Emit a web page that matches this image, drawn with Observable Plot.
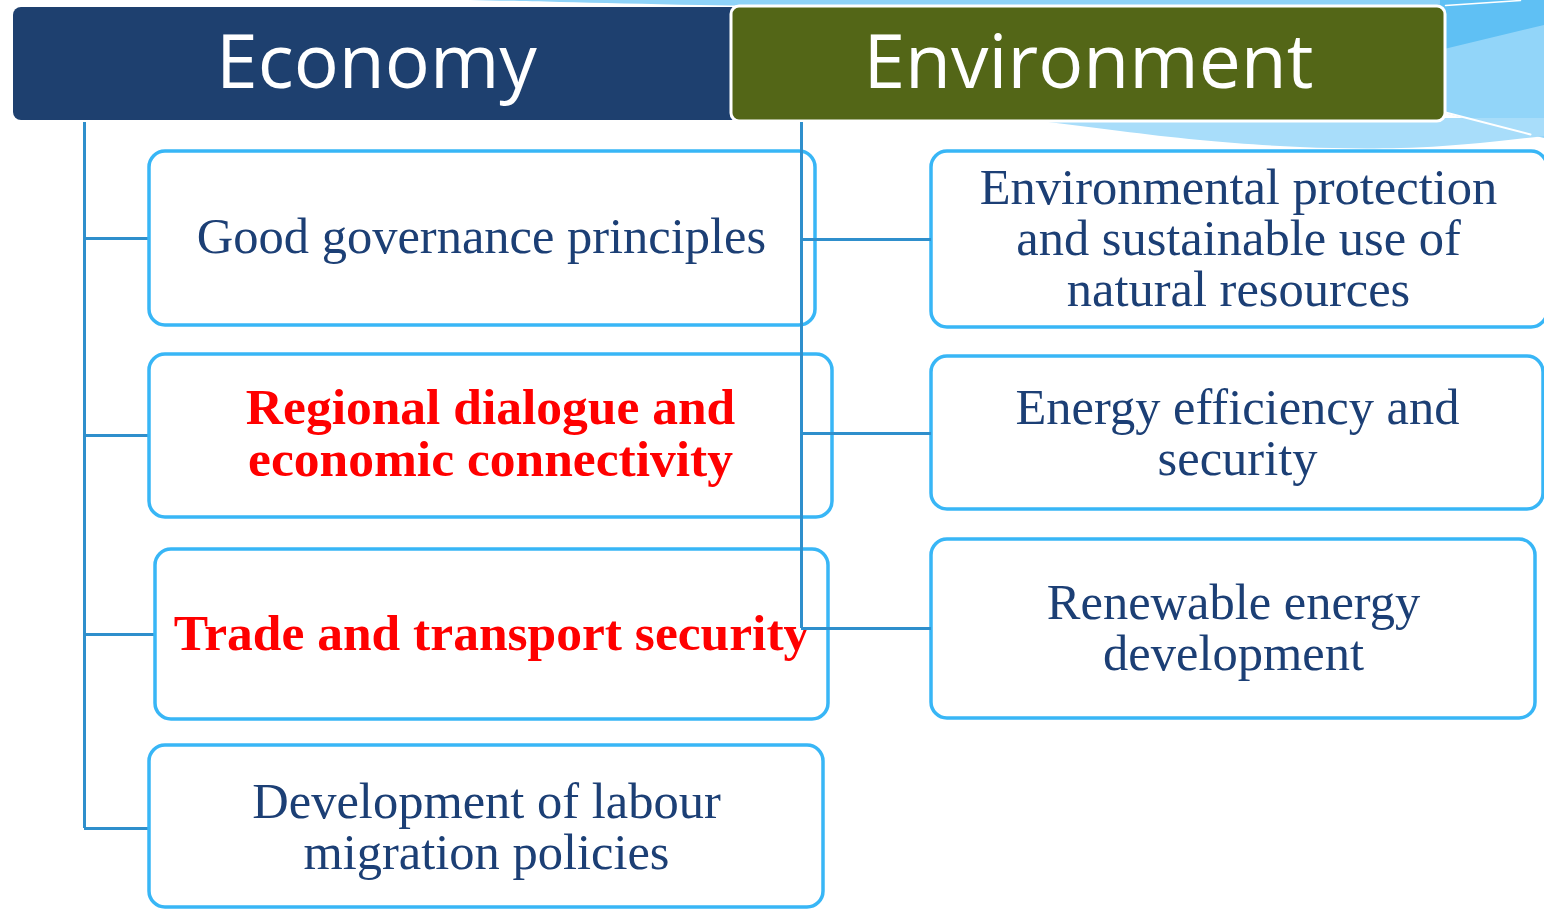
<!DOCTYPE html>
<html>
<head>
<meta charset="utf-8">
<script src="https://cdn.jsdelivr.net/npm/d3@7"></script>
<script src="https://cdn.jsdelivr.net/npm/@observablehq/plot@0.6"></script>
<style>
  html, body { margin: 0; padding: 0; background: #ffffff; overflow: hidden; }
  #chart svg { display: block; }
</style>
</head>
<body>
<div id="chart"></div>
<script>
// ---- Content ----
const headerLabels = ["Economy", "Environment"];
const economyItems = [
  "Good governance principles",
  "Regional dialogue and\neconomic connectivity",
  "Trade and transport security",
  "Development of labour\nmigration policies"
];
const economyHighlight = [false, true, true, false];
const environmentItems = [
  "Environmental protection\nand sustainable use of\nnatural resources",
  "Energy efficiency and\nsecurity",
  "Renewable energy\ndevelopment"
];

// ---- Layout (pixel units of the 1544 x 909 canvas) ----
const headerX1 = [13, 731];
const headerX2 = [740, 1445];
const headerY1 = [7, 6];
const headerY2 = [120, 121];
const headerFill = ["#1e406f", "#536617"];
const headerStroke = ["none", "#ffffff"];
const headerTextX = [376, 1088];

const econX1 = [149, 149, 155, 149];
const econX2 = [815, 832, 828, 823];
const econY1 = [151, 354, 549, 745];
const econY2 = [325, 517, 719, 907];
const econTextX = [481, 490, 491, 486];
const econTextY = [236, 433, 633, 827];

const envX1 = [931, 931, 931];
const envX2 = [1547, 1543, 1535];
const envY1 = [151, 356, 539];
const envY2 = [327, 509, 718];
const envTextX = [1238, 1237, 1233];
const envTextY = [238, 433, 628];

const leftSpineX = 84, leftSpineTop = 122;
const leftBranchY = [238, 435, 634, 828];
const leftBranchEnd = [149, 149, 155, 149];
const rightSpineX = 801, rightSpineTop = 122;
const rightBranchY = [239, 433, 628];
const rightBranchEnd = [931, 931, 931];

// decorative swoosh outlines
const bandTop = [
  {x: 470, y1: 0, y2: 0}, {x: 560, y1: 0, y2: 2}, {x: 700, y1: 0, y2: 5},
  {x: 900, y1: 0, y2: 7}, {x: 1200, y1: 0, y2: 7}, {x: 1450, y1: 0, y2: 7}
];
const rightPanel = [
  {x: 1440, y1: 0, y2: 112}, {x: 1544, y1: 0, y2: 138}
];
const rightDeep = [
  {x: 1440, y1: 0, y2: 50}, {x: 1544, y1: 0, y2: 25}
];
const lowerSwoosh = [
  {x: 1040, y1: 118, y2: 121}, {x: 1120, y1: 118, y2: 131}, {x: 1200, y1: 118, y2: 140},
  {x: 1300, y1: 118, y2: 147}, {x: 1400, y1: 118, y2: 148}, {x: 1480, y1: 118, y2: 143},
  {x: 1544, y1: 118, y2: 136}
];
const whiteLine = [{x: 1445, y: 112}, {x: 1530, y: 134}];
const whiteLineTop = [{x: 1445, y: 5}, {x: 1520, y: 0}];

// ---- Tables ----
const headers = headerLabels.map((label, i) => ({
  label, x1: headerX1[i], x2: headerX2[i], y1: headerY1[i], y2: headerY2[i],
  fill: headerFill[i], stroke: headerStroke[i], tx: headerTextX[i], ty: (headerY1[i] + headerY2[i]) / 2
}));
const econBoxes = economyItems.map((label, i) => ({
  label, hi: economyHighlight[i], x1: econX1[i], x2: econX2[i], y1: econY1[i], y2: econY2[i],
  tx: econTextX[i], ty: econTextY[i]
}));
const envBoxes = environmentItems.map((label, i) => ({
  label, hi: false, x1: envX1[i], x2: envX2[i], y1: envY1[i], y2: envY2[i],
  tx: envTextX[i], ty: envTextY[i]
}));
const boxes = econBoxes.concat(envBoxes);
const branches = leftBranchY.map((y, i) => ({x1: leftSpineX, x2: leftBranchEnd[i], y}))
  .concat(rightBranchY.map((y, i) => ({x1: rightSpineX, x2: rightBranchEnd[i], y})));
const spines = [
  {x: leftSpineX, y1: leftSpineTop, y2: leftBranchY[leftBranchY.length - 1]},
  {x: rightSpineX, y1: rightSpineTop, y2: rightBranchY[rightBranchY.length - 1]}
];

const lineColor = "#2f8fcc";
const boxStroke = "#38b6f6";
const textColor = "#1c3f75";
const serif = "Liberation Serif, DejaVu Serif, serif";

const chart = Plot.plot({
  width: 1544,
  height: 909,
  margin: 0,
  x: {domain: [0, 1544], range: [0, 1544], axis: null},
  y: {domain: [0, 909], range: [0, 909], axis: null},
  style: {background: "#ffffff"},
  marks: [
    // decorative background
    Plot.areaY(bandTop, {x: "x", y1: "y1", y2: "y2", fill: "#8fd3f8", curve: "natural"}),
    Plot.areaY(rightPanel, {x: "x", y1: "y1", y2: "y2", fill: "#92d5f9"}),
    Plot.areaY(rightDeep, {x: "x", y1: "y1", y2: "y2", fill: "#5fc0f4"}),
    Plot.areaY(lowerSwoosh, {x: "x", y1: "y1", y2: "y2", fill: "#a8ddfa", curve: "natural"}),
    Plot.line(whiteLine, {x: "x", y: "y", stroke: "#ffffff", strokeWidth: 2}),
    Plot.line(whiteLineTop, {x: "x", y: "y", stroke: "#ffffff", strokeWidth: 1.5}),
    // headers
    Plot.rect(headers, {x1: "x1", x2: "x2", y1: "y1", y2: "y2", fill: "fill", stroke: "stroke", strokeWidth: 3, rx: 8}),
    Plot.text(headers, {x: "tx", y: "ty", text: "label", fill: "#ffffff", fontSize: 75,
      fontFamily: "Open Sans, Lato, sans-serif", textAnchor: "middle", lineAnchor: "middle"}),
    // left connectors
    Plot.ruleX(spines.slice(0, 1), {x: "x", y1: "y1", y2: "y2", stroke: lineColor, strokeWidth: 3}),
    Plot.ruleY(branches.slice(0, 4), {y: "y", x1: "x1", x2: "x2", stroke: lineColor, strokeWidth: 3}),
    // boxes
    Plot.rect(boxes, {x1: "x1", x2: "x2", y1: "y1", y2: "y2", fill: "#ffffff", stroke: boxStroke, strokeWidth: 3.5, rx: 16}),
    Plot.text(boxes.filter(d => !d.hi), {x: "tx", y: "ty", text: "label", fill: textColor,
      fontSize: 50.5, lineHeight: 1.01, fontFamily: serif, textAnchor: "middle", lineAnchor: "middle"}),
    Plot.text(boxes.filter(d => d.hi), {x: "tx", y: "ty", text: "label", fill: "#ff0000", fontWeight: "bold",
      fontSize: 51.5, lineHeight: 1.0, fontFamily: serif, textAnchor: "middle", lineAnchor: "middle"}),
    // right connectors on top
    Plot.ruleX(spines.slice(1), {x: "x", y1: "y1", y2: "y2", stroke: lineColor, strokeWidth: 3}),
    Plot.ruleY(branches.slice(4), {y: "y", x1: "x1", x2: "x2", stroke: lineColor, strokeWidth: 3})
  ]
});
document.getElementById("chart").appendChild(chart);
</script>
</body>
</html>
